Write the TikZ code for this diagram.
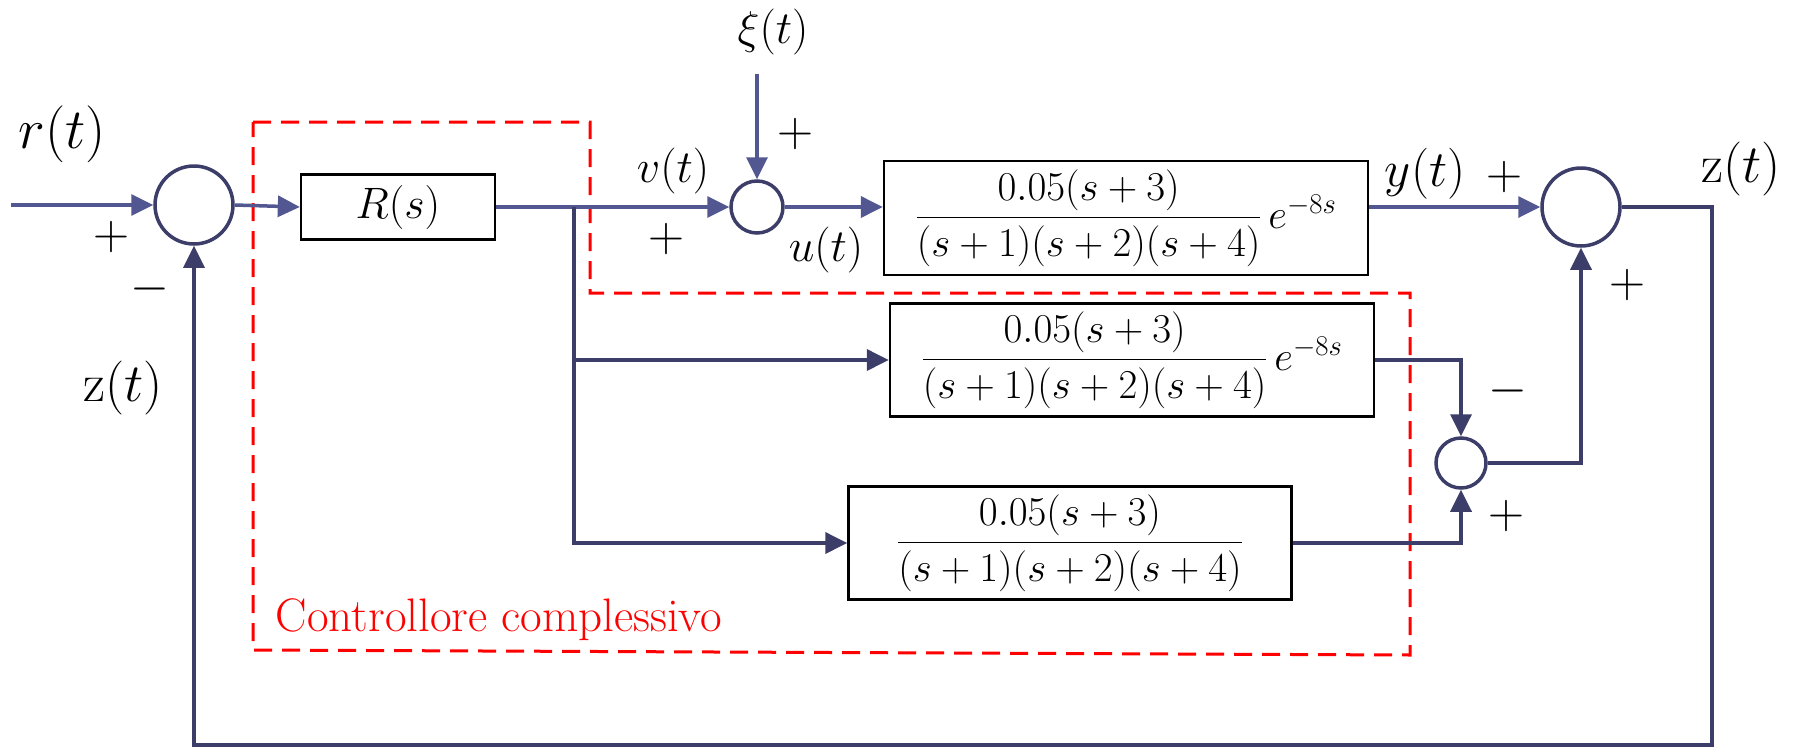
\RequirePackage{fix-cm}
\documentclass[tikz,border=0pt]{standalone}
\usepackage{amsmath}
\usetikzlibrary{arrows.meta,positioning}
\definecolor{sigline}{RGB}{82,87,145}
\definecolor{sigdark}{RGB}{60,62,105}
\newcommand{\plantfrac}{\dfrac{0.05(s+3)}{(s+1)(s+2)(s+4)}}

\begin{document}
\begin{tikzpicture}[
   x=1pt,y=-1pt,
   sig/.style={draw=sigline,line width=3.5pt,-{Triangle[length=22pt,width=21pt]}},
   sigd/.style={sig,draw=sigdark},
   block/.style={draw=black,line width=2.4pt,fill=white,inner sep=0pt,
                 font=\fontsize{41}{44}\selectfont},
   summ/.style={circle,draw=sigdark,line width=3.5pt,inner sep=0pt},
   lab/.style={font=\fontsize{46}{50}\selectfont,inner sep=0pt},
   biglab/.style={font=\fontsize{54}{58}\selectfont,inner sep=0pt},
   sgn/.style={font=\fontsize{50}{52}\selectfont,inner sep=0pt},
   ctrl/.style={draw=red,line width=3pt,dash pattern=on 18pt off 10pt}
 ]
  \useasboundingbox (0,0) rectangle (1794,747);

  % Controller boundary, behind everything else.
  \path[ctrl] (253,122) -- (590,122) -- (590,293) -- (1410,293)
     -- (1410,655) -- (253,650) -- cycle;
  \node[text=red,font=\fontsize{47}{50}\selectfont,inner sep=0pt]
     (ctrltext) at (499,620) {Controllore complessivo};

  % Summing junctions and blocks.
  \node[summ,minimum size=78pt] (sum1) at (194,205) {};
  \node[block,minimum width=194pt,minimum height=65pt,
        font=\fontsize{44}{46}\selectfont] (R) at (398,207) {$R(s)$};
  \node[summ,minimum size=52pt] (sum2) at (757,207) {};
  \node[block,minimum width=484pt,minimum height=114pt] (G1) at (1126,218)
     {$\plantfrac\, e^{-8s}$};
  \node[summ,minimum size=78pt] (sum3) at (1581,207) {};
  \node[block,minimum width=484pt,minimum height=113pt] (G2) at (1132,360)
     {$\plantfrac\, e^{-8s}$};
  \node[block,minimum width=443pt,minimum height=113pt] (G3) at (1070,543)
     {$\plantfrac$};
  \node[summ,minimum size=50pt] (sum4) at (1461,463) {};

  \coordinate (in) at (11,205);
  \coordinate (xi) at (757,74);
  \coordinate (br) at (574,207);
  \coordinate (fb) at (1712,745);

  % Forward path.
  \draw[sig] (in) -- (sum1.west);
  \draw[sig] (sum1.east) -- (R.west);
  \draw[sig] (R.east) -- (sum2.west);
  \draw[sig] (xi) -- (sum2.north);
  \draw[sig] (sum2.east) -- (sum2.east -| G1.west);
  \draw[sig] (sum3.west -| G1.east) -- (sum3.west);

  % Predictor branches.
  \draw[sigd] (br) |- (G2.west);
  \draw[sigd] (br) |- (G3.west);
  \draw[sigd] (G2.east) -| (sum4.north);
  \draw[sigd] (G3.east) -| (sum4.south);
  \draw[sigd] (sum4.east) -| (sum3.south);

  % Feedback of z(t).
  \draw[sigd] (sum3.east) -| (fb) -| (sum1.south);

  % Signal labels.
  \node[biglab,font=\fontsize{57}{60}\selectfont] (rlab) at (62,134) {$r(t)$};
  \node[biglab] (zlabL) at (123,388) {$\mathrm{z}(t)$};
  \node[biglab] (zlabR) at (1741,169) {$\mathrm{z}(t)$};
  \node[lab,font=\fontsize{51}{54}\selectfont] (ylab) at (1425,174) {$y(t)$};
  \node[lab] (vlab) at (673,171) {$v(t)$};
  \node[lab] (xilab) at (773,32) {$\xi(t)$};
  \node[lab] (ulab) at (826,250) {$u(t)$};

  % Signs at the junctions.
  \node[sgn] (p1) at (111,237) {$+$};
  \node[sgn] (m1) at (150,289) {$-$};
  \node[sgn] (p2) at (666,239) {$+$};
  \node[sgn] (p3) at (795,134) {$+$};
  \node[sgn] (p4) at (1504,177) {$+$};
  \node[sgn] (p5) at (1627,285) {$+$};
  \node[sgn] (m2) at (1508,391) {$-$};
  \node[sgn] (p6) at (1506,516) {$+$};
\end{tikzpicture}
\end{document}
